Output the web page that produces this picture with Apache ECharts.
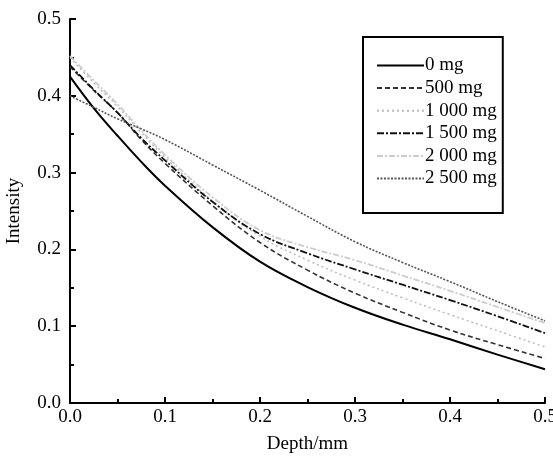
<!DOCTYPE html>
<html><head><meta charset="utf-8">
<script src="https://cdn.jsdelivr.net/npm/echarts@6/dist/echarts.min.js"></script>
<style>html,body{margin:0;padding:0;background:#fff}#c{width:553px;height:460px}</style>
</head><body><div id="c"></div>
<script>
const depth = [0, 0.025, 0.05, 0.075, 0.1, 0.15, 0.2, 0.25, 0.3, 0.35, 0.4, 0.45, 0.5];
const names = ['0 mg', '500 mg', '1 000 mg', '1 500 mg', '2 000 mg', '2 500 mg'];
const s0    = [0.425, 0.384, 0.348, 0.314, 0.283, 0.229, 0.184, 0.151, 0.124, 0.102, 0.083, 0.063, 0.044];
const s500  = [0.438, 0.407, 0.378, 0.343, 0.312, 0.257, 0.209, 0.173, 0.143, 0.118, 0.095, 0.076, 0.058];
const s1000 = [0.450, 0.417, 0.386, 0.352, 0.320, 0.263, 0.217, 0.186, 0.160, 0.137, 0.115, 0.094, 0.073];
const s1500 = [0.440, 0.408, 0.378, 0.345, 0.316, 0.262, 0.220, 0.195, 0.174, 0.154, 0.134, 0.113, 0.091];
const s2000 = [0.452, 0.420, 0.389, 0.355, 0.323, 0.268, 0.225, 0.203, 0.186, 0.166, 0.146, 0.125, 0.104];
const s2500 = [0.400, 0.385, 0.370, 0.357, 0.343, 0.310, 0.277, 0.243, 0.210, 0.183, 0.158, 0.132, 0.107];
const seriesValues = [s0, s500, s1000, s1500, s2000, s2500];

const styles = [
  {color:'#000', width:2, type:'solid'},
  {color:'#333', width:1.6, type:[5,3]},
  {color:'#bbb', width:1.5, type:[2,3]},
  {color:'#111', width:1.8, type:[7,2,2,2]},
  {color:'#ccc', width:1.8, type:[6,2,2,2]},
  {color:'#555', width:1.6, type:[2,1.5]}
];
const font = 'Liberation Serif';
const chart = echarts.init(document.getElementById('c'));
chart.setOption({
  animation:false,
  backgroundColor:'#fff',
  grid:{left:70, right:8, top:19, bottom:57, containLabel:false, outerBoundsMode:'none'},
  legend:{
    orient:'vertical', left:363, top:37,
    padding:[19,6,25,13], itemGap:3.6, itemWidth:47, itemHeight:16,
    borderColor:'#000', borderWidth:2,
    itemStyle:{opacity:0},
    textStyle:{fontFamily:font, fontSize:19, color:'#000', padding:[0,0,0,-4]},
    data:names.map(n=>({name:n}))
  },
  xAxis:{
    type:'value', min:0, max:0.5, interval:0.1,
    name:'Depth/mm', nameLocation:'middle', nameGap:32,
    nameTextStyle:{fontFamily:font, fontSize:19, color:'#000'},
    axisLine:{lineStyle:{color:'#000', width:2}},
    axisTick:{inside:true, length:6, lineStyle:{color:'#000', width:2}},
    minorTick:{show:true, splitNumber:2, length:4, lineStyle:{color:'#000', width:2}},
    axisLabel:{fontFamily:font, fontSize:19, color:'#000', margin:5, formatter:v=>v.toFixed(1)},
    splitLine:{show:false}
  },
  yAxis:{
    type:'value', min:0, max:0.5, interval:0.1,
    name:'Intensity', nameLocation:'middle', nameGap:46, nameRotate:90,
    nameTextStyle:{fontFamily:font, fontSize:19, color:'#000'},
    axisLine:{show:true, lineStyle:{color:'#000', width:2}},
    axisTick:{show:true, inside:true, length:6, lineStyle:{color:'#000', width:2}},
    minorTick:{show:true, splitNumber:2, length:4, lineStyle:{color:'#000', width:2}},
    axisLabel:{fontFamily:font, fontSize:19, color:'#000', margin:9, formatter:v=>v.toFixed(1)},
    splitLine:{show:false}
  },
  series:names.map((n,i)=>({
    name:n, type:'line', smooth:0.4, symbol:'none',
    data:depth.map((d,j)=>[d, seriesValues[i][j]]),
    lineStyle:styles[i], itemStyle:{color:styles[i].color}
  }))
});
</script></body></html>
